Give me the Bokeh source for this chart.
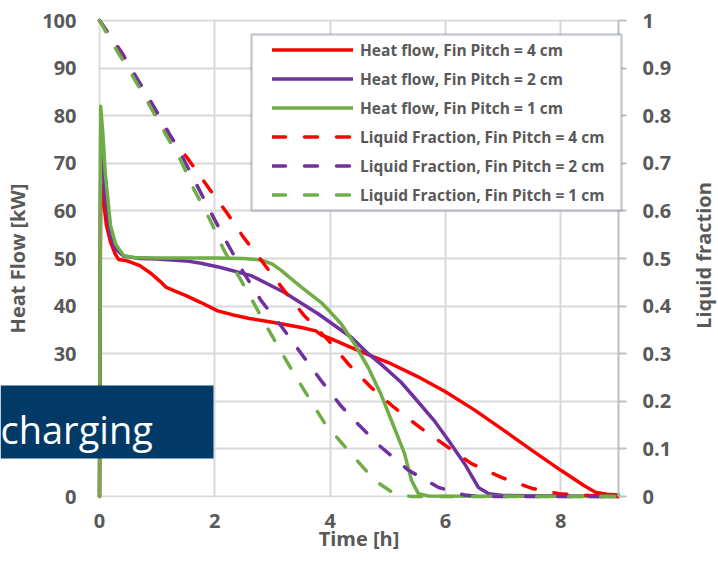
import math
from bokeh.plotting import figure
from bokeh.models import (Range1d, LinearAxis, FixedTicker, Legend, LegendItem,
                          BoxAnnotation, Label)
from bokeh.embed import file_html
from bokeh.resources import INLINE

# ---------------- data ----------------
x_ticks = [0, 2, 4, 6, 8]
hf_ticks = [0, 10, 20, 30, 40, 50, 60, 70, 80, 90, 100]
lf_ticks = [0, 0.1, 0.2, 0.3, 0.4, 0.5, 0.6, 0.7, 0.8, 0.9, 1.0]
t_min, t_max = 0, 9
hf_min, hf_max = 0, 100
lf_min, lf_max = 0, 1

series_names = [
    "Heat flow, Fin Pitch = 4 cm",
    "Heat flow, Fin Pitch = 2 cm",
    "Heat flow, Fin Pitch = 1 cm",
    "Liquid Fraction, Fin Pitch = 4 cm",
    "Liquid Fraction, Fin Pitch = 2 cm",
    "Liquid Fraction, Fin Pitch = 1 cm",
]

# Heat flow [kW], fin pitch 4 cm
hf4_t = [0, 0.02, 0.07, 0.12, 0.19, 0.27, 0.33, 0.45, 0.55, 0.7, 0.9, 1.05, 1.15,
         1.3, 1.5, 1.75, 2.05, 2.3, 2.6, 3.0, 3.5, 3.75, 3.85, 4.0, 4.4, 4.7, 5.0,
         5.5, 6.0, 6.5, 7.0, 7.5, 8.0, 8.4, 8.6, 8.8, 9.0]
hf4_kw = [0, 66, 62, 57, 53.5, 51, 49.8, 49.6, 49.2, 48.5, 46.8, 45.2, 44.0,
          43.2, 42.2, 40.8, 39.0, 38.2, 37.4, 36.6, 35.5, 34.8, 33.9, 33.2, 31.1, 29.6, 28.2,
          25.3, 22.0, 18.2, 14.0, 9.7, 5.5, 2.3, 0.9, 0.5, 0.3]

# Heat flow [kW], fin pitch 2 cm
hf2_t = [0, 0.02, 0.06, 0.1, 0.19, 0.28, 0.42, 0.7, 1.0, 1.5, 1.76, 2.1, 2.63,
         3.2, 3.79, 4.37, 4.66, 4.89, 5.23, 5.46, 5.8, 6.05, 6.33, 6.57, 6.75, 7.0, 9.0]
hf2_kw = [0, 76, 70, 63, 55, 52, 50.5, 50.0, 49.9, 49.5, 49.0, 48.1, 46.4,
          42.9, 38.4, 33.4, 30.0, 27.7, 24.0, 20.8, 16.0, 11.8, 6.9, 1.9, 0.6, 0.2, 0]

# Heat flow [kW], fin pitch 1 cm
hf1_t = [0, 0.02, 0.06, 0.1, 0.19, 0.28, 0.42, 0.6, 1.0, 2.0, 2.5, 2.8, 3.0, 3.15,
         3.3, 3.5, 3.84, 4.0, 4.19, 4.42, 4.66, 4.89, 5.11, 5.29, 5.41, 5.53, 5.7, 9.0]
hf1_kw = [0, 82, 76, 68, 57, 53, 50.6, 50.2, 50.1, 50.1, 50.0, 49.7, 48.8, 47.5,
          46.0, 44.0, 40.8, 38.8, 36.3, 32.1, 27.1, 21.2, 14.5, 9.0, 3.4, 0.6, 0.1, 0]

# Liquid fraction, fin pitch 4 cm
lf4_t = [0, 0.4, 0.89, 1.11, 1.53, 1.93, 2.22, 2.5, 2.85, 3.2, 3.55, 3.97, 4.31,
         4.71, 5.11, 5.58, 6.05, 6.45, 6.97, 7.5, 7.97, 8.5, 9.0]
lf4_v = [1.0, 0.93, 0.82, 0.775, 0.71, 0.642, 0.594, 0.544, 0.489, 0.433, 0.380, 0.328, 0.279,
         0.229, 0.187, 0.143, 0.103, 0.069, 0.040, 0.017, 0.006, 0.002, 0.0]

# Liquid fraction, fin pitch 2 cm
lf2_t = [0, 0.42, 0.89, 1.41, 1.93, 2.22, 2.5, 2.8, 3.15, 3.5, 3.84, 4.19, 4.5,
         4.89, 5.36, 5.88, 6.33, 6.6, 9.0]
lf2_v = [1.0, 0.925, 0.83, 0.72, 0.597, 0.531, 0.47, 0.412, 0.358, 0.30, 0.244, 0.19, 0.15,
         0.103, 0.055, 0.019, 0.003, 0.0, 0.0]

# Liquid fraction, fin pitch 1 cm
lf1_t = [0, 0.3, 0.6, 0.89, 1.18, 1.41, 1.64, 1.93, 2.16, 2.45, 2.97, 3.27, 3.55,
         3.9, 4.31, 4.77, 5.11, 5.4, 9.0]
lf1_v = [1.0, 0.937, 0.878, 0.817, 0.754, 0.706, 0.645, 0.578, 0.517, 0.455, 0.342, 0.279, 0.223,
         0.155, 0.097, 0.034, 0.006, 0.0, 0.0]

colors = ["#ff0000", "#7030a0", "#70ad47"]

# ---------------- layout / styling ----------------
FONT = "Open Sans"
GRAY = "#595959"
GRID = "#d9d9d9"

W, H = 718, 562
PLOT_L, PLOT_R, PLOT_T, PLOT_B = 99, 618, 20, 496   # pixel box of the data area
px_per_h = (PLOT_R - PLOT_L) / (t_max - t_min)
px_per_kw = (PLOT_B - PLOT_T) / (hf_max - hf_min)
x_start = t_min - PLOT_L / px_per_h
x_end = t_max + (W - PLOT_R) / px_per_h
y_start = hf_min - (H - PLOT_B) / px_per_kw
y_end = hf_max + PLOT_T / px_per_kw
lf_scale = (lf_max - lf_min) / (hf_max - hf_min)


def sx(px):  # canvas px -> hours
    return x_start + px / px_per_h


def sy(py):  # canvas px (from top) -> kW
    return y_end - py / px_per_kw


def up(py):  # canvas px (from top) -> screen px above the frame bottom
    return H - py


p = figure(width=W, height=H, output_backend="svg", toolbar_location=None,
           x_range=Range1d(x_start, x_end), y_range=Range1d(y_start, y_end),
           min_border_left=0, min_border_right=0, min_border_top=0,
           min_border_bottom=0)
p.outline_line_color = None
p.extra_y_ranges = {"lf": Range1d(lf_min + y_start * lf_scale, lf_min + y_end * lf_scale)}

# bottom axis, pinned at 0 kW
xa = p.xaxis[0]
xa.fixed_location = hf_min
xa.bounds = (t_min, t_max)
xa.ticker = FixedTicker(ticks=x_ticks)
xa.axis_label = "Time [h]"
xa.axis_line_color = None
xa.major_tick_line_color = None
xa.minor_tick_line_color = None
xa.major_tick_out = 0
xa.major_tick_in = 0
xa.minor_tick_out = 0
xa.minor_tick_in = 0
xa.major_label_standoff = 17
xa.axis_label_standoff = -6

# left axis, pinned at t = 0
ya = p.yaxis[0]
ya.fixed_location = t_min
ya.bounds = (hf_min, hf_max)
ya.ticker = FixedTicker(ticks=hf_ticks)
ya.axis_label = "Heat Flow [kW]"
ya.axis_line_color = None
ya.major_tick_line_color = None
ya.minor_tick_line_color = None
ya.major_tick_out = 0
ya.major_tick_in = 0
ya.minor_tick_out = 0
ya.minor_tick_in = 0
ya.major_label_standoff = 23
ya.axis_label_standoff = 8

# right axis, pinned at t = 9
ra = LinearAxis(y_range_name="lf", ticker=FixedTicker(ticks=lf_ticks),
                fixed_location=t_max, bounds=(lf_min, lf_max))
ra.axis_line_color = "#bfbfbf"
ra.axis_line_width = 2
ra.major_tick_line_color = "#bfbfbf"
ra.major_tick_line_width = 2
ra.major_tick_out = 8
ra.major_tick_in = 0
ra.minor_tick_line_color = None
ra.minor_tick_out = 0
ra.minor_tick_in = 0
ra.major_label_standoff = 16
ra.major_label_overrides = {0: "0", 1: "1"}
p.add_layout(ra, "right")

for ax in (xa, ya, ra):
    ax.major_label_text_font = FONT
    ax.major_label_text_font_size = "20px"
    ax.major_label_text_font_style = "bold"
    ax.major_label_text_color = GRAY
    ax.axis_label_text_font = FONT
    ax.axis_label_text_font_size = "20px"
    ax.axis_label_text_font_style = "bold"
    ax.axis_label_text_color = GRAY

p.xgrid.ticker = FixedTicker(ticks=x_ticks)
p.ygrid.ticker = FixedTicker(ticks=hf_ticks)
for g in (p.xgrid[0], p.ygrid[0]):
    g.grid_line_color = GRID
    g.grid_line_width = 2

# keep the grid inside 0..9 h and 0..100 kW
for l, r, b, t in ((x_start, sx(PLOT_L - 1), y_start, y_end),
                   (sx(PLOT_R + 1), x_end, y_start, y_end),
                   (x_start, x_end, sy(PLOT_T - 1), y_end),
                   (x_start, x_end, y_start, sy(PLOT_B + 1))):
    p.add_layout(BoxAnnotation(left=l, right=r, bottom=b, top=t, fill_color="white",
                               fill_alpha=1.0, line_color=None, level="underlay"))

# ---------------- lines ----------------
renderers = []
for t, v, c in zip([hf4_t, hf2_t, hf1_t], [hf4_kw, hf2_kw, hf1_kw], colors):
    renderers.append(p.line(t, v, line_color=c, line_width=3.5,
                            line_join="round", line_cap="round"))
for t, v, c in zip([lf4_t, lf2_t, lf1_t], [lf4_v, lf2_v, lf1_v], colors):
    renderers.append(p.line(t, v, y_range_name="lf", line_color=c, line_width=3.5,
                            line_dash="13 19", line_join="round", line_cap="round"))

# ---------------- decorations (screen px from the frame's bottom-left) ----------------
legend_box = BoxAnnotation(left=251, right=621, top=up(34), bottom=up(210),
                           left_units="screen", right_units="screen",
                           top_units="screen", bottom_units="screen",
                           fill_color="white", fill_alpha=1.0,
                           line_color="#44546a", line_width=2.5)
p.add_layout(legend_box)

charge_box = BoxAnnotation(left=0, right=213, top=up(385), bottom=up(458),
                           left_units="screen", right_units="screen",
                           top_units="screen", bottom_units="screen",
                           fill_color="#013a66", fill_alpha=1.0, line_color=None)
p.add_layout(charge_box)

charge_label = Label(x=0, y=up(428), x_units="screen", y_units="screen",
                     text="charging", text_font=FONT, text_font_size="38px",
                     text_color="white", text_baseline="middle")
p.add_layout(charge_label)

lf_title = Label(x=703, y=up(255), x_units="screen", y_units="screen",
                 text="Liquid fraction", angle=math.pi / 2,
                 text_font=FONT, text_font_size="20px", text_font_style="bold",
                 text_color=GRAY, text_align="center", text_baseline="middle")
p.add_layout(lf_title)

legend = Legend(items=[LegendItem(label=n, renderers=[r])
                       for n, r in zip(series_names, renderers)],
                location=(271, up(210)), orientation="vertical",
                glyph_width=81, glyph_height=29, label_height=29,
                label_standoff=7, spacing=0, padding=1, margin=0,
                border_line_alpha=0, background_fill_alpha=0,
                label_text_font=FONT, label_text_font_size="15.5px",
                label_text_font_style="bold", label_text_color=GRAY)
p.add_layout(legend)

open("out.html", "w").write(file_html(p, INLINE))
